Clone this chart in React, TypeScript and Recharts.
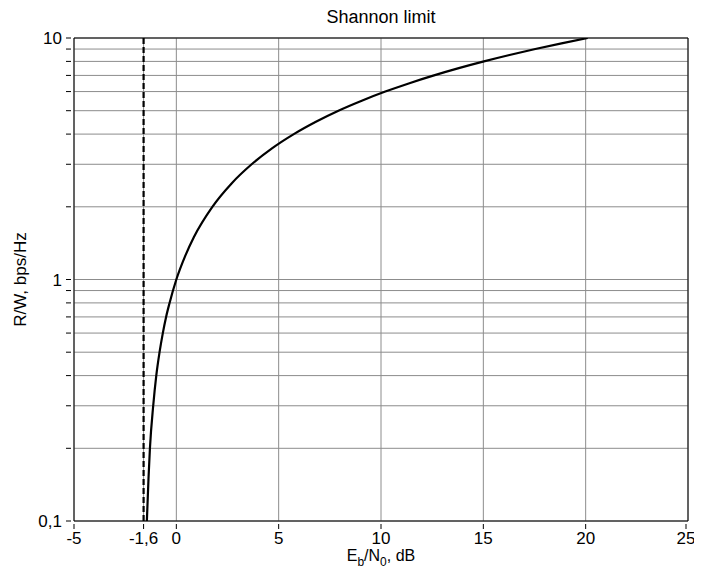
import { LineChart, Line, XAxis, YAxis, CartesianGrid, Label } from "recharts";

// Eb/N0 (dB) needed for a spectral efficiency R/W (bps/Hz)
const ebn0Db = [
  -1.44, -1.36, -1.29, -1.13, -0.98, -0.82, -0.66, -0.5, -0.33, 0, 0.43, 0.86,
  1.76, 2.7, 3.68, 4.69, 5.74, 6.82, 7.92, 9.06, 10.21, 11.39, 12.59, 13.8,
  15.03, 16.28, 17.54, 18.82, 20.1,
];
const rateBpsHz = [
  0.1, 0.15, 0.2, 0.3, 0.4, 0.5, 0.6, 0.7, 0.8, 1, 1.25, 1.5, 2, 2.5, 3, 3.5, 4,
  4.5, 5, 5.5, 6, 6.5, 7, 7.5, 8, 8.5, 9, 9.5, 10,
];
const shannonLimitDb = -1.6;
const limitRates = [0.1, 10];

const xTicks = [-5, -1.6, 0, 5, 10, 15, 20, 25];
const yTicks = [
  0.1, 0.2, 0.3, 0.4, 0.5, 0.6, 0.7, 0.8, 0.9, 1, 2, 3, 4, 5, 6, 7, 8, 9, 10,
];
const yLabelled = [0.1, 1, 10];

const curveData = ebn0Db.map((x, i) => ({ x, r: rateBpsHz[i] }));
const limitData = limitRates.map((r) => ({ x: shannonLimitDb, r }));

const FONT = "'Liberation Sans', Arial, Helvetica, sans-serif";
const FS = 17;
const fmt = (v: number) => String(v).replace(".", ",");

function XTick(props: any) {
  const { x, y, payload } = props;
  return (
    <g>
      <line x1={x} x2={x} y1={y - 5} y2={y} stroke="#000" />
      <text x={x} y={y + 15} textAnchor="middle" fontSize={FS} fontFamily={FONT} fill="#000">
        {fmt(payload.value)}
      </text>
    </g>
  );
}

function YTick(props: any) {
  const { x, y, payload } = props;
  const v = payload.value;
  return (
    <g>
      <line x1={x} x2={x + 5} y1={y} y2={y} stroke="#000" />
      {yLabelled.includes(v) && (
        <text x={x - 4} y={y} dy="0.36em" textAnchor="end" fontSize={FS} fontFamily={FONT} fill="#000">
          {fmt(v)}
        </text>
      )}
    </g>
  );
}

function XTitle(props: any) {
  const vb = props.viewBox;
  const cx = vb.x + vb.width / 2;
  return (
    <g>
      <text x={cx} y={15} textAnchor="middle" fontSize={18} fontFamily={FONT} fill="#000">
        Shannon limit
      </text>
      <text x={cx} y={vb.y + 40} textAnchor="middle" fontSize={16} fontFamily={FONT} fill="#000">
        E
        <tspan dy={5} fontSize={12} fill="#000">b</tspan>
        <tspan dy={-5} fill="#000">/N</tspan>
        <tspan dy={5} fontSize={12} fill="#000">0</tspan>
        <tspan dy={-5} fill="#000">, dB</tspan>
      </text>
    </g>
  );
}

function YTitle(props: any) {
  const vb = props.viewBox;
  const cx = vb.x - 4;
  const cy = vb.y + vb.height / 2;
  return (
    <text
      x={cx}
      y={cy}
      transform={`rotate(-90, ${cx}, ${cy})`}
      textAnchor="middle"
      dominantBaseline="central"
      fontSize={FS}
      fontFamily={FONT}
      fill="#000"
    >
      R/W, bps/Hz
    </text>
  );
}

export default function App() {
  return (
    <LineChart width={686} height={561} margin={{ top: 29, right: 5, bottom: 18, left: 16 }}>
      <CartesianGrid xAxisId="b" yAxisId="l" stroke="#8c8c8c" strokeWidth={1} />
      <XAxis
        xAxisId="b"
        type="number"
        dataKey="x"
        domain={[-5, 25]}
        ticks={xTicks}
        allowDataOverflow
        height={30}
        stroke="#000"
        tickLine={false}
        tick={<XTick />}
      >
        <Label content={<XTitle />} />
      </XAxis>
      <XAxis
        xAxisId="t"
        orientation="top"
        type="number"
        dataKey="x"
        domain={[-5, 25]}
        ticks={xTicks}
        allowDataOverflow
        height={1}
        stroke="#000"
        tickSize={-5}
        tick={false}
      />
      <YAxis
        yAxisId="l"
        type="number"
        dataKey="r"
        scale="log"
        domain={[0.1, 10]}
        ticks={yTicks}
        allowDataOverflow
        interval={0}
        width={50}
        stroke="#000"
        tickLine={false}
        tick={<YTick />}
      >
        <Label content={<YTitle />} />
      </YAxis>
      <YAxis
        yAxisId="r"
        orientation="right"
        type="number"
        dataKey="r"
        scale="log"
        domain={[0.1, 10]}
        ticks={yTicks}
        allowDataOverflow
        interval={0}
        width={1}
        stroke="#000"
        tickSize={-5}
        tick={false}
      />
      <Line
        xAxisId="b"
        yAxisId="l"
        data={limitData}
        dataKey="r"
        stroke="#000"
        strokeWidth={2.2}
        strokeDasharray="6 3"
        dot={false}
        isAnimationActive={false}
      />
      <Line
        xAxisId="b"
        yAxisId="l"
        data={curveData}
        dataKey="r"
        type="monotone"
        stroke="#000"
        strokeWidth={2.2}
        dot={false}
        isAnimationActive={false}
      />
    </LineChart>
  );
}
